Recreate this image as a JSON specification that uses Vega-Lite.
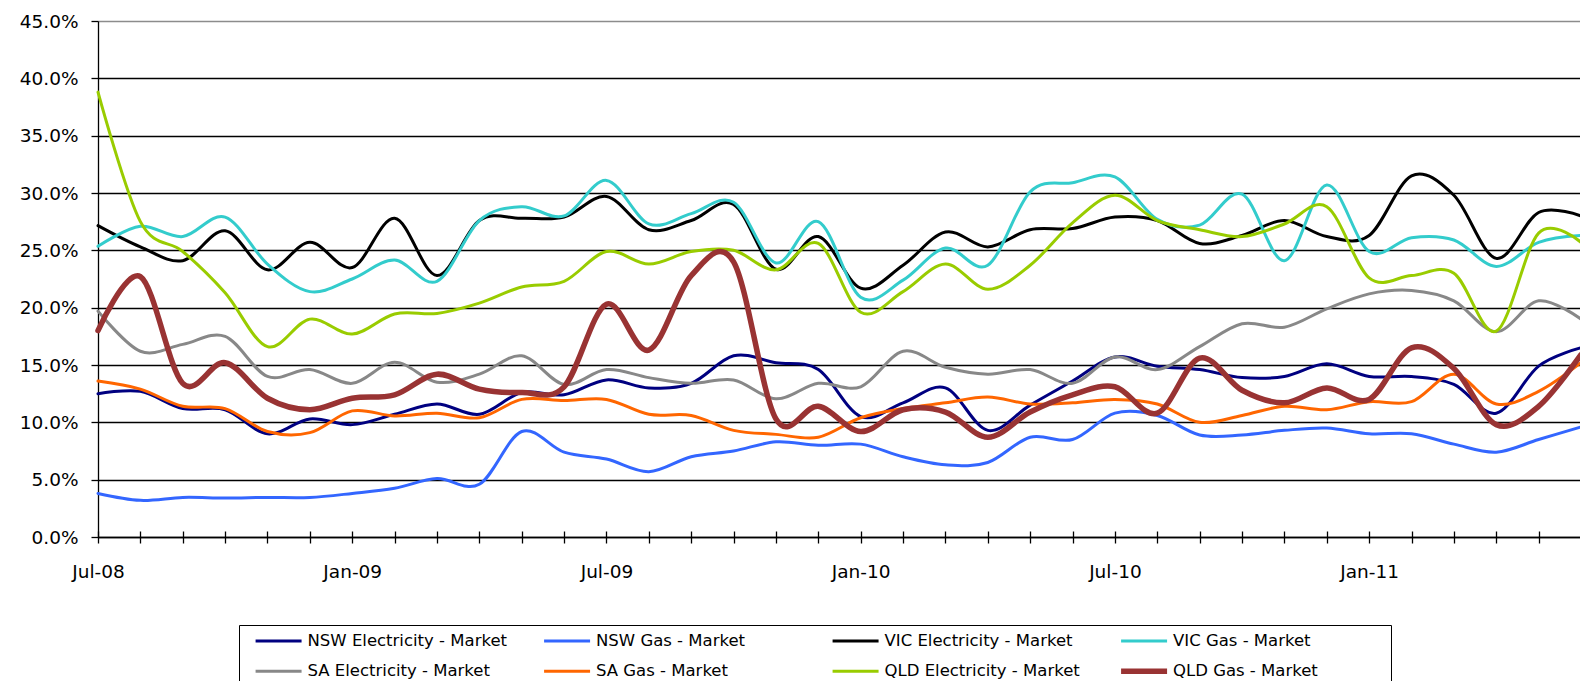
{
  "$schema": "https://vega.github.io/schema/vega-lite/v6.json",
  "width": 1483,
  "height": 516,
  "autosize": {"type": "none"},
  "padding": {"left": 98, "top": 21, "right": 0, "bottom": 144},
  "background": "white",
  "config": {"view": {"stroke": null}, "font": "DejaVu Sans"},
  "data": {"values": [
    {"m":"Jul-08","s":"NSW Electricity - Market","v":12.5},{"m":"Aug-08","s":"NSW Electricity - Market","v":12.7},{"m":"Sep-08","s":"NSW Electricity - Market","v":11.2},{"m":"Oct-08","s":"NSW Electricity - Market","v":11.1},{"m":"Nov-08","s":"NSW Electricity - Market","v":9.0},{"m":"Dec-08","s":"NSW Electricity - Market","v":10.3},{"m":"Jan-09","s":"NSW Electricity - Market","v":9.8},{"m":"Feb-09","s":"NSW Electricity - Market","v":10.7},{"m":"Mar-09","s":"NSW Electricity - Market","v":11.6},{"m":"Apr-09","s":"NSW Electricity - Market","v":10.7},{"m":"May-09","s":"NSW Electricity - Market","v":12.6},{"m":"Jun-09","s":"NSW Electricity - Market","v":12.4},{"m":"Jul-09","s":"NSW Electricity - Market","v":13.7},{"m":"Aug-09","s":"NSW Electricity - Market","v":13.0},{"m":"Sep-09","s":"NSW Electricity - Market","v":13.4},{"m":"Oct-09","s":"NSW Electricity - Market","v":15.8},{"m":"Nov-09","s":"NSW Electricity - Market","v":15.2},{"m":"Dec-09","s":"NSW Electricity - Market","v":14.6},{"m":"Jan-10","s":"NSW Electricity - Market","v":10.5},{"m":"Feb-10","s":"NSW Electricity - Market","v":11.7},{"m":"Mar-10","s":"NSW Electricity - Market","v":13.0},{"m":"Apr-10","s":"NSW Electricity - Market","v":9.3},{"m":"May-10","s":"NSW Electricity - Market","v":11.5},{"m":"Jun-10","s":"NSW Electricity - Market","v":13.6},{"m":"Jul-10","s":"NSW Electricity - Market","v":15.7},{"m":"Aug-10","s":"NSW Electricity - Market","v":14.9},{"m":"Sep-10","s":"NSW Electricity - Market","v":14.6},{"m":"Oct-10","s":"NSW Electricity - Market","v":13.9},{"m":"Nov-10","s":"NSW Electricity - Market","v":14.0},{"m":"Dec-10","s":"NSW Electricity - Market","v":15.1},{"m":"Jan-11","s":"NSW Electricity - Market","v":14.0},{"m":"Feb-11","s":"NSW Electricity - Market","v":14.0},{"m":"Mar-11","s":"NSW Electricity - Market","v":13.3},{"m":"Apr-11","s":"NSW Electricity - Market","v":10.8},{"m":"May-11","s":"NSW Electricity - Market","v":14.9},{"m":"Jun-11","s":"NSW Electricity - Market","v":16.5},
    {"m":"Jul-08","s":"NSW Gas - Market","v":3.8},{"m":"Aug-08","s":"NSW Gas - Market","v":3.2},{"m":"Sep-08","s":"NSW Gas - Market","v":3.45},{"m":"Oct-08","s":"NSW Gas - Market","v":3.4},{"m":"Nov-08","s":"NSW Gas - Market","v":3.45},{"m":"Dec-08","s":"NSW Gas - Market","v":3.45},{"m":"Jan-09","s":"NSW Gas - Market","v":3.8},{"m":"Feb-09","s":"NSW Gas - Market","v":4.25},{"m":"Mar-09","s":"NSW Gas - Market","v":5.1},{"m":"Apr-09","s":"NSW Gas - Market","v":4.6},{"m":"May-09","s":"NSW Gas - Market","v":9.2},{"m":"Jun-09","s":"NSW Gas - Market","v":7.4},{"m":"Jul-09","s":"NSW Gas - Market","v":6.8},{"m":"Aug-09","s":"NSW Gas - Market","v":5.7},{"m":"Sep-09","s":"NSW Gas - Market","v":7.0},{"m":"Oct-09","s":"NSW Gas - Market","v":7.5},{"m":"Nov-09","s":"NSW Gas - Market","v":8.3},{"m":"Dec-09","s":"NSW Gas - Market","v":8.0},{"m":"Jan-10","s":"NSW Gas - Market","v":8.1},{"m":"Feb-10","s":"NSW Gas - Market","v":7.0},{"m":"Mar-10","s":"NSW Gas - Market","v":6.3},{"m":"Apr-10","s":"NSW Gas - Market","v":6.5},{"m":"May-10","s":"NSW Gas - Market","v":8.7},{"m":"Jun-10","s":"NSW Gas - Market","v":8.5},{"m":"Jul-10","s":"NSW Gas - Market","v":10.8},{"m":"Aug-10","s":"NSW Gas - Market","v":10.6},{"m":"Sep-10","s":"NSW Gas - Market","v":8.9},{"m":"Oct-10","s":"NSW Gas - Market","v":8.9},{"m":"Nov-10","s":"NSW Gas - Market","v":9.3},{"m":"Dec-10","s":"NSW Gas - Market","v":9.5},{"m":"Jan-11","s":"NSW Gas - Market","v":9.0},{"m":"Feb-11","s":"NSW Gas - Market","v":9.0},{"m":"Mar-11","s":"NSW Gas - Market","v":8.1},{"m":"Apr-11","s":"NSW Gas - Market","v":7.4},{"m":"May-11","s":"NSW Gas - Market","v":8.5},{"m":"Jun-11","s":"NSW Gas - Market","v":9.6},
    {"m":"Jul-08","s":"VIC Electricity - Market","v":27.15},{"m":"Aug-08","s":"VIC Electricity - Market","v":25.3},{"m":"Sep-08","s":"VIC Electricity - Market","v":24.1},{"m":"Oct-08","s":"VIC Electricity - Market","v":26.7},{"m":"Nov-08","s":"VIC Electricity - Market","v":23.3},{"m":"Dec-08","s":"VIC Electricity - Market","v":25.7},{"m":"Jan-09","s":"VIC Electricity - Market","v":23.5},{"m":"Feb-09","s":"VIC Electricity - Market","v":27.8},{"m":"Mar-09","s":"VIC Electricity - Market","v":22.8},{"m":"Apr-09","s":"VIC Electricity - Market","v":27.6},{"m":"May-09","s":"VIC Electricity - Market","v":27.8},{"m":"Jun-09","s":"VIC Electricity - Market","v":27.9},{"m":"Jul-09","s":"VIC Electricity - Market","v":29.7},{"m":"Aug-09","s":"VIC Electricity - Market","v":26.8},{"m":"Sep-09","s":"VIC Electricity - Market","v":27.6},{"m":"Oct-09","s":"VIC Electricity - Market","v":29.0},{"m":"Nov-09","s":"VIC Electricity - Market","v":23.35},{"m":"Dec-09","s":"VIC Electricity - Market","v":26.2},{"m":"Jan-10","s":"VIC Electricity - Market","v":21.7},{"m":"Feb-10","s":"VIC Electricity - Market","v":23.7},{"m":"Mar-10","s":"VIC Electricity - Market","v":26.6},{"m":"Apr-10","s":"VIC Electricity - Market","v":25.3},{"m":"May-10","s":"VIC Electricity - Market","v":26.8},{"m":"Jun-10","s":"VIC Electricity - Market","v":26.9},{"m":"Jul-10","s":"VIC Electricity - Market","v":27.9},{"m":"Aug-10","s":"VIC Electricity - Market","v":27.6},{"m":"Sep-10","s":"VIC Electricity - Market","v":25.6},{"m":"Oct-10","s":"VIC Electricity - Market","v":26.3},{"m":"Nov-10","s":"VIC Electricity - Market","v":27.6},{"m":"Dec-10","s":"VIC Electricity - Market","v":26.2},{"m":"Jan-11","s":"VIC Electricity - Market","v":26.3},{"m":"Feb-11","s":"VIC Electricity - Market","v":31.5},{"m":"Mar-11","s":"VIC Electricity - Market","v":29.8},{"m":"Apr-11","s":"VIC Electricity - Market","v":24.3},{"m":"May-11","s":"VIC Electricity - Market","v":28.3},{"m":"Jun-11","s":"VIC Electricity - Market","v":28.0},
    {"m":"Jul-08","s":"VIC Gas - Market","v":25.35},{"m":"Aug-08","s":"VIC Gas - Market","v":27.1},{"m":"Sep-08","s":"VIC Gas - Market","v":26.2},{"m":"Oct-08","s":"VIC Gas - Market","v":27.9},{"m":"Nov-08","s":"VIC Gas - Market","v":23.8},{"m":"Dec-08","s":"VIC Gas - Market","v":21.4},{"m":"Jan-09","s":"VIC Gas - Market","v":22.5},{"m":"Feb-09","s":"VIC Gas - Market","v":24.15},{"m":"Mar-09","s":"VIC Gas - Market","v":22.3},{"m":"Apr-09","s":"VIC Gas - Market","v":27.6},{"m":"May-09","s":"VIC Gas - Market","v":28.8},{"m":"Jun-09","s":"VIC Gas - Market","v":28.0},{"m":"Jul-09","s":"VIC Gas - Market","v":31.1},{"m":"Aug-09","s":"VIC Gas - Market","v":27.3},{"m":"Sep-09","s":"VIC Gas - Market","v":28.2},{"m":"Oct-09","s":"VIC Gas - Market","v":29.2},{"m":"Nov-09","s":"VIC Gas - Market","v":23.9},{"m":"Dec-09","s":"VIC Gas - Market","v":27.5},{"m":"Jan-10","s":"VIC Gas - Market","v":20.9},{"m":"Feb-10","s":"VIC Gas - Market","v":22.4},{"m":"Mar-10","s":"VIC Gas - Market","v":25.2},{"m":"Apr-10","s":"VIC Gas - Market","v":23.7},{"m":"May-10","s":"VIC Gas - Market","v":30.1},{"m":"Jun-10","s":"VIC Gas - Market","v":30.9},{"m":"Jul-10","s":"VIC Gas - Market","v":31.4},{"m":"Aug-10","s":"VIC Gas - Market","v":27.7},{"m":"Sep-10","s":"VIC Gas - Market","v":27.2},{"m":"Oct-10","s":"VIC Gas - Market","v":29.9},{"m":"Nov-10","s":"VIC Gas - Market","v":24.1},{"m":"Dec-10","s":"VIC Gas - Market","v":30.7},{"m":"Jan-11","s":"VIC Gas - Market","v":24.9},{"m":"Feb-11","s":"VIC Gas - Market","v":26.1},{"m":"Mar-11","s":"VIC Gas - Market","v":25.9},{"m":"Apr-11","s":"VIC Gas - Market","v":23.6},{"m":"May-11","s":"VIC Gas - Market","v":25.7},{"m":"Jun-11","s":"VIC Gas - Market","v":26.3},
    {"m":"Jul-08","s":"SA Electricity - Market","v":19.7},{"m":"Aug-08","s":"SA Electricity - Market","v":16.2},{"m":"Sep-08","s":"SA Electricity - Market","v":16.8},{"m":"Oct-08","s":"SA Electricity - Market","v":17.5},{"m":"Nov-08","s":"SA Electricity - Market","v":14.0},{"m":"Dec-08","s":"SA Electricity - Market","v":14.6},{"m":"Jan-09","s":"SA Electricity - Market","v":13.4},{"m":"Feb-09","s":"SA Electricity - Market","v":15.25},{"m":"Mar-09","s":"SA Electricity - Market","v":13.5},{"m":"Apr-09","s":"SA Electricity - Market","v":14.2},{"m":"May-09","s":"SA Electricity - Market","v":15.8},{"m":"Jun-09","s":"SA Electricity - Market","v":13.3},{"m":"Jul-09","s":"SA Electricity - Market","v":14.6},{"m":"Aug-09","s":"SA Electricity - Market","v":13.9},{"m":"Sep-09","s":"SA Electricity - Market","v":13.4},{"m":"Oct-09","s":"SA Electricity - Market","v":13.7},{"m":"Nov-09","s":"SA Electricity - Market","v":12.05},{"m":"Dec-09","s":"SA Electricity - Market","v":13.4},{"m":"Jan-10","s":"SA Electricity - Market","v":13.1},{"m":"Feb-10","s":"SA Electricity - Market","v":16.2},{"m":"Mar-10","s":"SA Electricity - Market","v":14.8},{"m":"Apr-10","s":"SA Electricity - Market","v":14.2},{"m":"May-10","s":"SA Electricity - Market","v":14.6},{"m":"Jun-10","s":"SA Electricity - Market","v":13.4},{"m":"Jul-10","s":"SA Electricity - Market","v":15.7},{"m":"Aug-10","s":"SA Electricity - Market","v":14.6},{"m":"Sep-10","s":"SA Electricity - Market","v":16.6},{"m":"Oct-10","s":"SA Electricity - Market","v":18.6},{"m":"Nov-10","s":"SA Electricity - Market","v":18.3},{"m":"Dec-10","s":"SA Electricity - Market","v":19.9},{"m":"Jan-11","s":"SA Electricity - Market","v":21.2},{"m":"Feb-11","s":"SA Electricity - Market","v":21.5},{"m":"Mar-11","s":"SA Electricity - Market","v":20.6},{"m":"Apr-11","s":"SA Electricity - Market","v":17.9},{"m":"May-11","s":"SA Electricity - Market","v":20.6},{"m":"Jun-11","s":"SA Electricity - Market","v":19.0},
    {"m":"Jul-08","s":"SA Gas - Market","v":13.6},{"m":"Aug-08","s":"SA Gas - Market","v":12.9},{"m":"Sep-08","s":"SA Gas - Market","v":11.4},{"m":"Oct-08","s":"SA Gas - Market","v":11.2},{"m":"Nov-08","s":"SA Gas - Market","v":9.2},{"m":"Dec-08","s":"SA Gas - Market","v":9.1},{"m":"Jan-09","s":"SA Gas - Market","v":11.0},{"m":"Feb-09","s":"SA Gas - Market","v":10.55},{"m":"Mar-09","s":"SA Gas - Market","v":10.8},{"m":"Apr-09","s":"SA Gas - Market","v":10.4},{"m":"May-09","s":"SA Gas - Market","v":12.0},{"m":"Jun-09","s":"SA Gas - Market","v":11.9},{"m":"Jul-09","s":"SA Gas - Market","v":12.0},{"m":"Aug-09","s":"SA Gas - Market","v":10.7},{"m":"Sep-09","s":"SA Gas - Market","v":10.6},{"m":"Oct-09","s":"SA Gas - Market","v":9.3},{"m":"Nov-09","s":"SA Gas - Market","v":8.95},{"m":"Dec-09","s":"SA Gas - Market","v":8.7},{"m":"Jan-10","s":"SA Gas - Market","v":10.4},{"m":"Feb-10","s":"SA Gas - Market","v":11.2},{"m":"Mar-10","s":"SA Gas - Market","v":11.7},{"m":"Apr-10","s":"SA Gas - Market","v":12.2},{"m":"May-10","s":"SA Gas - Market","v":11.6},{"m":"Jun-10","s":"SA Gas - Market","v":11.7},{"m":"Jul-10","s":"SA Gas - Market","v":12.0},{"m":"Aug-10","s":"SA Gas - Market","v":11.6},{"m":"Sep-10","s":"SA Gas - Market","v":10.0},{"m":"Oct-10","s":"SA Gas - Market","v":10.6},{"m":"Nov-10","s":"SA Gas - Market","v":11.4},{"m":"Dec-10","s":"SA Gas - Market","v":11.1},{"m":"Jan-11","s":"SA Gas - Market","v":11.8},{"m":"Feb-11","s":"SA Gas - Market","v":11.8},{"m":"Mar-11","s":"SA Gas - Market","v":14.2},{"m":"Apr-11","s":"SA Gas - Market","v":11.6},{"m":"May-11","s":"SA Gas - Market","v":12.7},{"m":"Jun-11","s":"SA Gas - Market","v":15.2},
    {"m":"Jul-08","s":"QLD Electricity - Market","v":38.8},{"m":"Aug-08","s":"QLD Electricity - Market","v":27.5},{"m":"Sep-08","s":"QLD Electricity - Market","v":24.9},{"m":"Oct-08","s":"QLD Electricity - Market","v":21.3},{"m":"Nov-08","s":"QLD Electricity - Market","v":16.6},{"m":"Dec-08","s":"QLD Electricity - Market","v":19.0},{"m":"Jan-09","s":"QLD Electricity - Market","v":17.7},{"m":"Feb-09","s":"QLD Electricity - Market","v":19.45},{"m":"Mar-09","s":"QLD Electricity - Market","v":19.5},{"m":"Apr-09","s":"QLD Electricity - Market","v":20.4},{"m":"May-09","s":"QLD Electricity - Market","v":21.8},{"m":"Jun-09","s":"QLD Electricity - Market","v":22.3},{"m":"Jul-09","s":"QLD Electricity - Market","v":24.9},{"m":"Aug-09","s":"QLD Electricity - Market","v":23.8},{"m":"Sep-09","s":"QLD Electricity - Market","v":24.9},{"m":"Oct-09","s":"QLD Electricity - Market","v":25.0},{"m":"Nov-09","s":"QLD Electricity - Market","v":23.3},{"m":"Dec-09","s":"QLD Electricity - Market","v":25.6},{"m":"Jan-10","s":"QLD Electricity - Market","v":19.6},{"m":"Feb-10","s":"QLD Electricity - Market","v":21.4},{"m":"Mar-10","s":"QLD Electricity - Market","v":23.8},{"m":"Apr-10","s":"QLD Electricity - Market","v":21.6},{"m":"May-10","s":"QLD Electricity - Market","v":23.7},{"m":"Jun-10","s":"QLD Electricity - Market","v":27.4},{"m":"Jul-10","s":"QLD Electricity - Market","v":29.8},{"m":"Aug-10","s":"QLD Electricity - Market","v":27.6},{"m":"Sep-10","s":"QLD Electricity - Market","v":26.8},{"m":"Oct-10","s":"QLD Electricity - Market","v":26.2},{"m":"Nov-10","s":"QLD Electricity - Market","v":27.3},{"m":"Dec-10","s":"QLD Electricity - Market","v":28.8},{"m":"Jan-11","s":"QLD Electricity - Market","v":22.6},{"m":"Feb-11","s":"QLD Electricity - Market","v":22.8},{"m":"Mar-11","s":"QLD Electricity - Market","v":23.0},{"m":"Apr-11","s":"QLD Electricity - Market","v":17.95},{"m":"May-11","s":"QLD Electricity - Market","v":26.5},{"m":"Jun-11","s":"QLD Electricity - Market","v":25.7},
    {"m":"Jul-08","s":"QLD Gas - Market","v":18.0},{"m":"Aug-08","s":"QLD Gas - Market","v":22.7},{"m":"Sep-08","s":"QLD Gas - Market","v":13.4},{"m":"Oct-08","s":"QLD Gas - Market","v":15.2},{"m":"Nov-08","s":"QLD Gas - Market","v":12.1},{"m":"Dec-08","s":"QLD Gas - Market","v":11.1},{"m":"Jan-09","s":"QLD Gas - Market","v":12.1},{"m":"Feb-09","s":"QLD Gas - Market","v":12.4},{"m":"Mar-09","s":"QLD Gas - Market","v":14.2},{"m":"Apr-09","s":"QLD Gas - Market","v":12.9},{"m":"May-09","s":"QLD Gas - Market","v":12.6},{"m":"Jun-09","s":"QLD Gas - Market","v":13.1},{"m":"Jul-09","s":"QLD Gas - Market","v":20.3},{"m":"Aug-09","s":"QLD Gas - Market","v":16.3},{"m":"Sep-09","s":"QLD Gas - Market","v":22.8},{"m":"Oct-09","s":"QLD Gas - Market","v":24.0},{"m":"Nov-09","s":"QLD Gas - Market","v":10.3},{"m":"Dec-09","s":"QLD Gas - Market","v":11.4},{"m":"Jan-10","s":"QLD Gas - Market","v":9.2},{"m":"Feb-10","s":"QLD Gas - Market","v":11.1},{"m":"Mar-10","s":"QLD Gas - Market","v":10.9},{"m":"Apr-10","s":"QLD Gas - Market","v":8.7},{"m":"May-10","s":"QLD Gas - Market","v":10.9},{"m":"Jun-10","s":"QLD Gas - Market","v":12.4},{"m":"Jul-10","s":"QLD Gas - Market","v":13.1},{"m":"Aug-10","s":"QLD Gas - Market","v":10.8},{"m":"Sep-10","s":"QLD Gas - Market","v":15.6},{"m":"Oct-10","s":"QLD Gas - Market","v":12.8},{"m":"Nov-10","s":"QLD Gas - Market","v":11.7},{"m":"Dec-10","s":"QLD Gas - Market","v":13.0},{"m":"Jan-11","s":"QLD Gas - Market","v":12.0},{"m":"Feb-11","s":"QLD Gas - Market","v":16.5},{"m":"Mar-11","s":"QLD Gas - Market","v":14.7},{"m":"Apr-11","s":"QLD Gas - Market","v":9.8},{"m":"May-11","s":"QLD Gas - Market","v":11.4},{"m":"Jun-11","s":"QLD Gas - Market","v":15.9}
  ]},
  "layer": [
    {
      "mark": {"type": "line", "interpolate": "cardinal", "strokeCap": "round", "strokeJoin": "round"},
      "encoding": {
        "x": {
          "field": "m", "type": "ordinal", "sort": null,
          "scale": {"type": "point", "padding": 0},
          "axis": {
            "title": null, "labelAngle": 0, "labelOverlap": false,
            "labelExpr": "indexof(datum.value, 'Jul') == 0 || indexof(datum.value, 'Jan') == 0 ? datum.value : ''",
            "labelFont": "DejaVu Sans", "labelFontSize": 18.5, "labelColor": "black",
            "labelPadding": 19, "tickSize": 6, "tickColor": "black", "tickWidth": 1.3,
            "domainColor": "black", "domainWidth": 1.3, "grid": false
          }
        },
        "y": {
          "field": "v", "type": "quantitative",
          "scale": {"domain": [0, 45], "nice": false},
          "axis": {
            "title": null, "values": [0, 5, 10, 15, 20, 25, 30, 35, 40, 45],
            "labelExpr": "format(datum.value, '.1f') + '%'",
            "labelFont": "DejaVu Sans", "labelFontSize": 18.5, "labelColor": "black",
            "labelPadding": 13, "tickSize": 7, "tickColor": "black", "tickWidth": 1.3,
            "domainColor": "black", "domainWidth": 1.3,
            "grid": true, "gridWidth": 1.3,
            "gridColor": {"condition": {"test": "datum.value >= 45", "value": "#8c8c8c"}, "value": "black"}
          }
        },
        "color": {
          "field": "s", "type": "nominal",
          "scale": {
            "domain": ["NSW Electricity - Market", "NSW Gas - Market", "VIC Electricity - Market", "VIC Gas - Market", "SA Electricity - Market", "SA Gas - Market", "QLD Electricity - Market", "QLD Gas - Market"],
            "range": ["#000080", "#3366FF", "#000000", "#33CCCC", "#888888", "#FF6600", "#99CC00", "#993333"]
          },
          "legend": {
            "title": " ", "titleOrient": "right", "titlePadding": 67, "titleFontSize": 2,
            "orient": "none", "legendX": 141, "legendY": 604, "direction": "horizontal",
            "columns": 4, "gridAlign": "all", "columnPadding": 25.5, "rowPadding": 9,
            "symbolType": "M-1,0H5", "symbolSize": 235, "symbolOffset": 10, "symbolStrokeWidth": 3,
            "labelFont": "DejaVu Sans", "labelFontSize": 16.5, "labelColor": "black", "labelOffset": 36, "labelLimit": 0,
            "strokeColor": "black", "padding": 6, "fillColor": "white",
            "encode": {"symbols": {"update": {"strokeWidth": {"signal": "datum.value === 'QLD Gas - Market' ? 5.5 : 3"}}}}
          }
        },
        "strokeWidth": {"condition": {"test": "datum.s === 'QLD Gas - Market'", "value": 5.5}, "value": 3}
      }
    },
    {
      "mark": {"type": "point", "opacity": 0},
      "encoding": {
        "x": {
          "field": "m", "type": "ordinal", "sort": null,
          "axis": {"orient": "bottom", "title": null, "labels": false, "domain": false, "grid": false, "tickSize": -6, "tickColor": "black", "tickWidth": 1.3}
        }
      }
    }
  ],
  "resolve": {"axis": {"x": "independent"}}
}
